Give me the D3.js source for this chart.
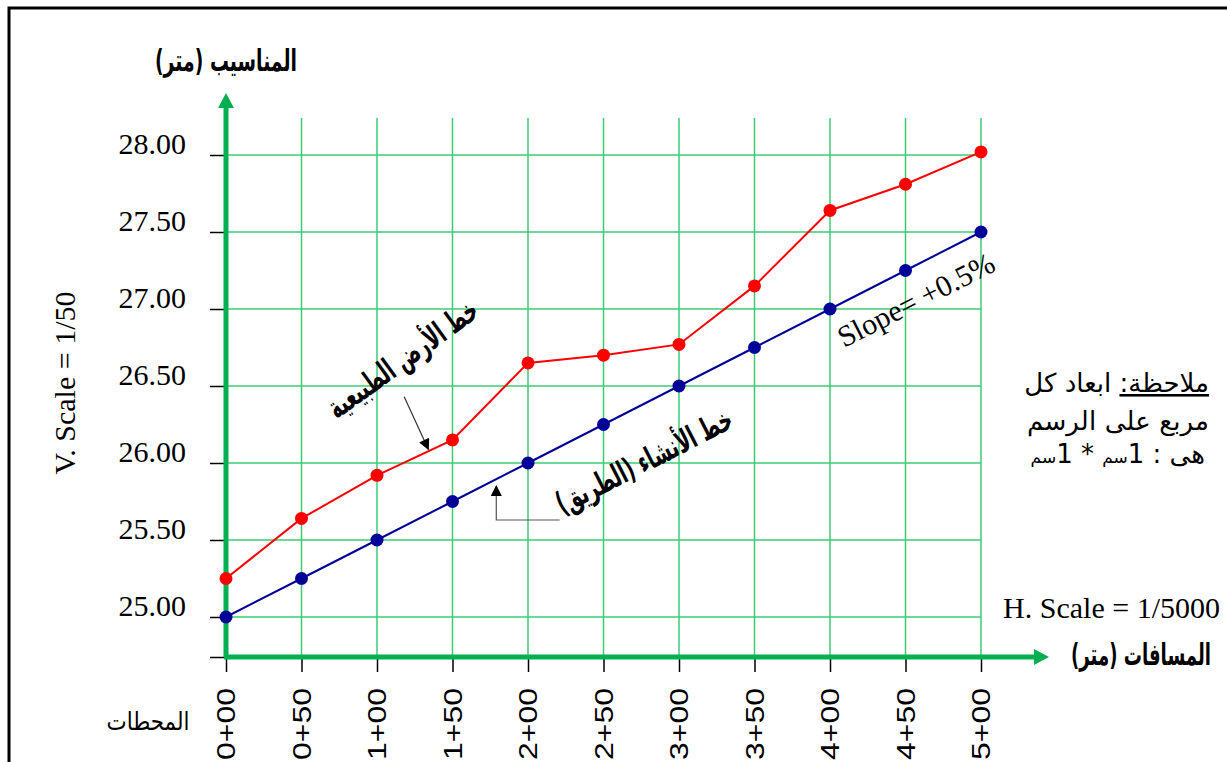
<!DOCTYPE html>
<html>
<head>
<meta charset="utf-8">
<script src="https://cdn.jsdelivr.net/npm/d3@7"></script>
<style>
	body { margin: 0; background: #fff; }
	svg { display: block; }
	.serif { font-family: "Liberation Serif", "Times New Roman", serif; }
	.ar { font-family: "DejaVu Sans", "Liberation Sans", sans-serif; }
</style>
</head>
<body>
<div class="profile"></div>
<script>

const stations = [0, 50, 100, 150, 200, 250, 300, 350, 400, 450, 500];
const stationLabels = ["0+00", "0+50", "1+00", "1+50", "2+00", "2+50", "3+00", "3+50", "4+00", "4+50", "5+00"];
const groundLevels = [25.25, 25.64, 25.92, 26.15, 26.65, 26.70, 26.77, 27.15, 27.64, 27.81, 28.02];
const roadLevels = [25.00, 25.25, 25.50, 25.75, 26.00, 26.25, 26.50, 26.75, 27.00, 27.25, 27.50];
const levelTicks = [25.00, 25.50, 26.00, 26.50, 27.00, 27.50, 28.00];

const width = 1227;
const height = 762;

const green = "#00b050";
const gridGreen = "#3ccb74";

const svg = d3.select(".profile")
				.append("svg")
				.attr("width", width)
				.attr("height", height);

// frame
svg.append("rect")
	.attr("x", 9)
	.attr("y", 8)
	.attr("width", 1250)
	.attr("height", 800)
	.attr("fill", "none")
	.attr("stroke", "#000")
	.attr("stroke-width", 3);

const x = d3.scaleLinear()
			.domain([0, 500])
			.range([226, 981]);

const y = d3.scaleLinear()
			.domain([25, 28])
			.range([617, 155]);

const baseLevel = y.invert(657);
const topLevel = y.invert(118);

// grid
const grid = svg.append("g").attr("class", "grid");
grid.selectAll(".v")
	.data(stations).enter()
	.append("line")
		.attr("x1", (d) => x(d))
		.attr("x2", (d) => x(d))
		.attr("y1", y(topLevel))
		.attr("y2", y(baseLevel))
		.attr("stroke", gridGreen)
		.attr("stroke-width", 1.5);

grid.selectAll(".h")
	.data(levelTicks).enter()
	.append("line")
		.attr("x1", x(0))
		.attr("x2", x(500))
		.attr("y1", (d) => y(d))
		.attr("y2", (d) => y(d))
		.attr("stroke", gridGreen)
		.attr("stroke-width", 1.5);

// axes (ticks only, the green arrows are drawn on top)
const yAxis = d3.axisLeft(y)
				.tickValues(levelTicks.concat([baseLevel]))
				.tickSize(16)
				.tickPadding(24)
				.tickFormat((d) => d < 25 ? "" : d3.format(".2f")(d));

const gy = svg.append("g")
	.attr("transform", `translate(${x(0)},0)`)
	.call(yAxis);
gy.select(".domain").remove();
gy.selectAll("line").attr("stroke", "#000").attr("stroke-width", 1.5);
gy.selectAll("text")
	.attr("class", "serif")
	.attr("font-size", 30)
	.attr("fill", "#000")
	.attr("dy", "-0.05em");

const xAxis = d3.axisBottom(x)
				.tickValues(stations)
				.tickSize(15)
				.tickFormat("");

const gx = svg.append("g")
	.attr("transform", `translate(0,${y(baseLevel)})`)
	.call(xAxis);
gx.select(".domain").remove();
gx.selectAll("line").attr("stroke", "#000").attr("stroke-width", 1.5);

svg.append("g")
	.selectAll("text")
		.data(stations).enter()
	.append("text")
		.attr("transform", (d) => `translate(${x(d) + 9},688) rotate(-90)`)
		.attr("text-anchor", "end")
		.attr("font-family", "Liberation Sans, Arial, sans-serif")
		.attr("font-size", 26)
		.attr("textLength", 72)
		.attr("lengthAdjust", "spacingAndGlyphs")
		.text((d, i) => stationLabels[i]);

// green axis arrows
svg.append("line")
	.attr("x1", x(0)).attr("x2", x(0))
	.attr("y1", y(baseLevel)).attr("y2", 104)
	.attr("stroke", green).attr("stroke-width", 5);
svg.append("path")
	.attr("d", `M${x(0) - 8},108 L${x(0)},93 L${x(0) + 8},108 Z`)
	.attr("fill", green);

svg.append("line")
	.attr("x1", x(0) - 2).attr("x2", 1038)
	.attr("y1", y(baseLevel)).attr("y2", y(baseLevel))
	.attr("stroke", green).attr("stroke-width", 5);
svg.append("path")
	.attr("d", `M1034,${y(baseLevel) - 8} L1049,${y(baseLevel)} L1034,${y(baseLevel) + 8} Z`)
	.attr("fill", green);

// profile lines
const line = d3.line()
				.x((d) => x(d[0]))
				.y((d) => y(d[1]));

const series = [
	{ name: "ground", values: groundLevels, color: "#ff0000" },
	{ name: "road", values: roadLevels, color: "#000099" }
];

series.forEach((s) => {
	const pts = stations.map((st, i) => [st, s.values[i]]);
	svg.append("path")
		.datum(pts)
		.attr("d", line)
		.attr("fill", "none")
		.attr("stroke", s.color)
		.attr("stroke-width", 2);
	svg.append("g")
		.selectAll("circle")
			.data(pts).enter()
		.append("circle")
			.attr("cx", (d) => x(d[0]))
			.attr("cy", (d) => y(d[1]))
			.attr("r", 6.5)
			.attr("fill", s.color);
});

// labels
function arLabel(px, py, txt, size, len, opts = {}) {
	const t = svg.append("text")
		.attr("class", "ar")
		.attr("text-anchor", "middle")
		.attr("direction", "rtl")
		.attr("font-size", size)
		.attr("font-weight", opts.bold ? "bold" : "normal")
		.attr("transform", `translate(${px},${py}) rotate(${opts.angle || 0}) scale(1,${opts.sy || 1})`)
		.text(txt);
	if (len) t.attr("textLength", len).attr("lengthAdjust", "spacingAndGlyphs");
	return t;
}

arLabel(226, 71, "المناسيب (متر)", 20, 142, { bold: true, sy: 1.5 });
arLabel(1141, 665, "المسافات (متر)", 20, 140, { bold: true, sy: 1.5 });
arLabel(148, 730, "المحطات", 20, 83, { sy: 1.25 });

svg.append("text")
	.attr("class", "serif")
	.attr("transform", "translate(75,383) rotate(-90)")
	.attr("text-anchor", "middle")
	.attr("font-size", 30)
	.text("V. Scale = 1/50");

svg.append("text")
	.attr("class", "serif")
	.attr("x", 1220)
	.attr("y", 618)
	.attr("text-anchor", "end")
	.attr("font-size", 30)
	.text("H. Scale = 1/5000");

const roadAngle = Math.atan2(y(roadLevels[10]) - y(roadLevels[0]), x(500) - x(0)) * 180 / Math.PI;

svg.append("text")
	.attr("class", "serif")
	.attr("transform", `translate(${x(460)},${y(27.0)}) rotate(${roadAngle})`)
	.attr("text-anchor", "middle")
	.attr("font-size", 30)
	.text("Slope= +0.5%");

arLabel(x(121), y(26.62), "خط الأرض الطبيعية", 26, 178, { bold: true, angle: -36, sy: 1.2 });
arLabel(x(280), y(25.95), "خط الأنشاء (الطريق)", 26, 194, { bold: true, angle: roadAngle, sy: 1.2 });

// pointer arrows
svg.append("defs")
	.append("marker")
		.attr("id", "head")
		.attr("viewBox", "0 0 10 10")
		.attr("refX", 9)
		.attr("refY", 5)
		.attr("markerUnits", "userSpaceOnUse")
		.attr("markerWidth", 14)
		.attr("markerHeight", 11)
		.attr("orient", "auto")
	.append("path")
		.attr("d", "M0,0 L10,5 L0,10 Z")
		.attr("fill", "#000");

svg.append("path")
	.attr("d", d3.line()([[x(118), y(26.43)], [x(134), y(26.09)]]))
	.attr("stroke", "#333")
	.attr("stroke-width", 1.2)
	.attr("marker-end", "url(#head)");

svg.append("path")
	.attr("d", d3.line()([[x(221), y(25.63)], [x(179), y(25.63)], [x(179), y(25.85)]]))
	.attr("fill", "none")
	.attr("stroke", "#555")
	.attr("stroke-width", 1.2)
	.attr("marker-end", "url(#head)");

// note
const note = svg.append("g").attr("class", "ar").attr("font-size", 26);
const l1 = note.append("text")
	.attr("x", 1209)
	.attr("y", 392)
	.attr("direction", "rtl")
	.attr("text-anchor", "start");
l1.append("tspan").attr("text-decoration", "underline").text("ملاحظة:");
l1.append("tspan").text(" ابعاد كل");

note.append("text")
	.attr("x", 1209)
	.attr("y", 430)
	.attr("direction", "rtl")
	.attr("text-anchor", "start")
	.attr("textLength", 182)
	.attr("lengthAdjust", "spacing")
	.text("مربع على الرسم");

const l3 = note.append("text")
	.attr("x", 1205)
	.attr("y", 463)
	.attr("direction", "ltr")
	.attr("text-anchor", "end");
l3.append("tspan").text("هى : 1");
l3.append("tspan").attr("font-size", 17).text("سم");
l3.append("tspan").text(" * 1");
l3.append("tspan").attr("font-size", 17).text("سم");

</script>
</body>
</html>
